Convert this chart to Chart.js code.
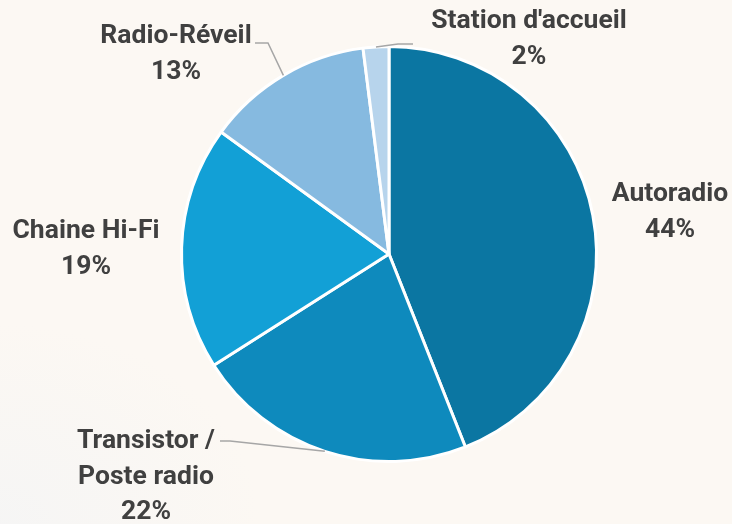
<!DOCTYPE html>
<html>
<head>
<meta charset="utf-8">
<script src="https://cdn.jsdelivr.net/npm/chart.js@4"></script>
<style>
	html, body { margin: 0; padding: 0; }
	body {
		width: 732px;
		height: 524px;
		background: #fcf8f3;
		background-image: radial-gradient(ellipse 260px 200px at 0px 524px, rgba(245, 245, 245, 0.9), rgba(252, 248, 243, 0));
		overflow: hidden;
	}
	#wrap { position: relative; width: 732px; height: 524px; }
</style>
</head>
<body>
<div id="wrap"><canvas id="chart" width="732" height="524"></canvas></div>
<script>
"use strict";


const categories = [
	["Autoradio"],
	["Transistor /", "Poste radio"],
	["Chaine Hi-Fi"],
	["Radio-Réveil"],
	["Station d'accueil"],
];
const shares = [44, 22, 19, 13, 2];

const sliceColors = ["#0b76a2", "#0e8abd", "#12a0d6", "#86bae0", "#b7d4ec"];
const textColor = "#404040";
const leaderColor = "#a6a6a6";
const labelFont = "bold 26px Roboto, sans-serif";
const squeeze = 1.02;

// label block: centre x, baseline of first line, optional leader line
const labelLayout = [
	{ x: 670, y: 201 },
	{ x: 146, y: 448, knee: [230, 441], end: [220, 441] },
	{ x: 86, y: 238 },
	{ x: 176, y: 43, knee: [268, 43], end: [255, 43] },
	{ x: 529, y: 28, knee: [398, 44], end: [413, 44] },
];


const outsideLabels = {
	id: "outsideLabels",
	afterDatasetsDraw(chart) {
		const ctx = chart.ctx;
		const arcs = chart.getDatasetMeta(0).data;
		const lineH = 35.5;

		ctx.save();
		arcs.forEach((arc, i) => {
			const p = arc.getProps(["x", "y", "startAngle", "endAngle", "outerRadius"], true);
			const mid = (p.startAngle + p.endAngle) / 2;
			const lay = labelLayout[i];

			if (lay.knee) {
				ctx.strokeStyle = leaderColor;
				ctx.lineWidth = 1.5;
				ctx.beginPath();
				ctx.moveTo(p.x + Math.cos(mid) * p.outerRadius, p.y + Math.sin(mid) * p.outerRadius);
				ctx.lineTo(lay.knee[0], lay.knee[1]);
				ctx.lineTo(lay.end[0], lay.end[1]);
				ctx.stroke();
			}

			const lines = categories[i].concat([shares[i] + "%"]);
			ctx.fillStyle = textColor;
			ctx.font = labelFont;
			ctx.textAlign = "center";
			ctx.textBaseline = "alphabetic";
			lines.forEach((t, k) => {
				ctx.save();
				ctx.translate(lay.x, lay.y + k * lineH);
				ctx.scale(squeeze, 1);
				ctx.fillText(t, 0, 0);
				ctx.restore();
			});
		});
		ctx.restore();
	}
};


function setup_chart() {
	const ctx = document.getElementById("chart").getContext("2d");
	const data = {
		labels: categories.map(c => c.join(" ")),
		datasets: [{
			data: shares,
			backgroundColor: sliceColors,
			borderColor: "#ffffff",
			borderWidth: 3,
		}],
	};
	const config = {
		type: "pie",
		data: data,
		options: {
			responsive: false,
			animation: false,
			layout: {
				padding: { left: 180, right: 134, top: 45, bottom: 61 },
			},
			plugins: {
				legend: { display: false },
				tooltip: { enabled: false },
			},
		},
		plugins: [outsideLabels],
	};
	new Chart(ctx, config);
}


setup_chart();
</script>
</body>
</html>
